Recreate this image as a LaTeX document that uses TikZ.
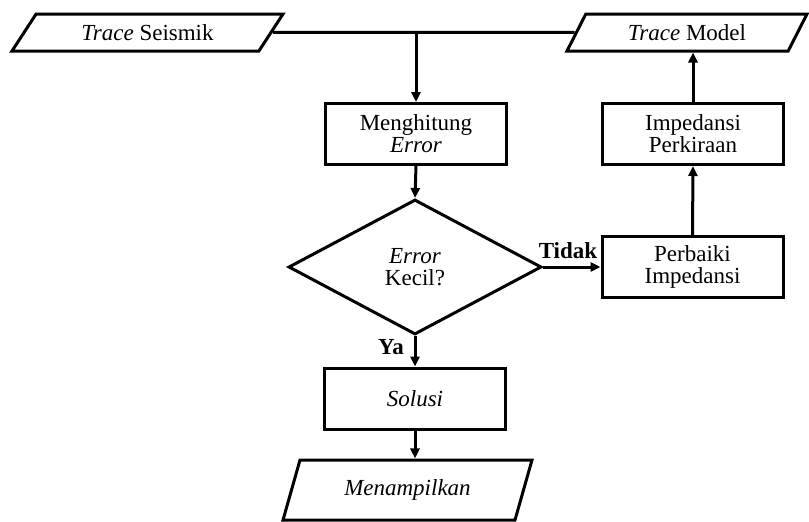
\documentclass[tikz,border=0pt]{standalone}
\usepackage{fontspec}
\setmainfont{Liberation Serif}
\usetikzlibrary{shapes.geometric,arrows.meta}

\begin{document}
\begin{tikzpicture}[x=1pt,y=-1pt,
	txt/.style={font=\fontsize{23}{22}\selectfont, align=center},
	prosesbox/.style={txt, draw, line width=3pt, minimum width=181pt, minimum height=61pt, inner sep=0pt},
	iobox/.style={txt, draw, line width=3pt, trapezium, trapezium stretches body, inner sep=0pt},
	panah/.style={line width=3pt, -{Triangle[length=10pt,width=9pt]}}]
	
	\useasboundingbox (0,0) rectangle (809,522);
	
	%input dan output
	\node[iobox, trapezium left angle=33.9, trapezium right angle=146.1, minimum width=271pt, minimum height=37pt] (seismik) at (147.5,32.5) {\textit{Trace} Seismik};
	\node[iobox, trapezium left angle=40.7, trapezium right angle=139.3, minimum width=240pt, minimum height=37pt] (model) at (687,32.5) {\textit{Trace} Model};
	\node[iobox, trapezium left angle=50.8, trapezium right angle=129.2, minimum width=249pt, minimum height=60pt] (tampil) at (407.5,490) {\textit{Menampilkan}};
	
	%proses
	\node[prosesbox] (hitung) at (416,134) {Menghitung\\\textit{Error}};
	\node[prosesbox] (kira) at (693,134) {Impedansi\\Perkiraan};
	\node[prosesbox] (perbaiki) at (692.5,267) {Perbaiki\\Impedansi};
	\node[prosesbox] (solusi) at (415,398.5) {\textit{Solusi}};
	
	%keputusan
	\node[txt, draw, line width=3pt, diamond, aspect=1.87, minimum width=253pt, minimum height=135pt, inner sep=0pt] (cek) at (415,267) {\textit{Error}\\Kecil?};
	
	%garis
	\coordinate (temu) at (hitung.north |- seismik.east);
	\draw[line width=3pt] (seismik.east) -- (model.west);
	\draw[panah] (temu) -- (hitung.north);
	\draw[panah] (hitung.south) -- (cek.north);
	\draw[panah] (cek.east) -- (perbaiki.west);
	\draw[panah] (perbaiki.north) -- (kira.south);
	\draw[panah] (kira.north) -- (kira.north |- model.south);
	\draw[panah] (cek.south) -- (solusi.north);
	\draw[panah] (solusi.south) -- (solusi.south |- tampil.north);
	
	\node[txt, font=\fontsize{23}{22}\selectfont\bfseries] (tidak) at (568,251) {Tidak};
	\node[txt, font=\fontsize{23}{22}\selectfont\bfseries] (ya) at (391,347) {Ya};

\end{tikzpicture}
\end{document}
